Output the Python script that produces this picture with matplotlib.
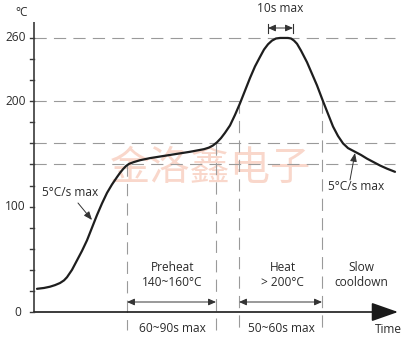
import matplotlib
matplotlib.use("Agg")
import matplotlib.pyplot as plt

plt.rcParams['font.family'] = ['Open Sans', 'DejaVu Sans']

# Reflow temperature profile (time in arbitrary units, temperature in °C)
profile_time = [3, 10, 16, 21, 26, 30, 33, 38, 43, 48, 53, 58, 63, 68, 73, 78,
                83, 86, 89, 92, 95, 99, 106, 116, 136, 156, 170, 175, 179, 183,
                187, 191, 196, 201, 206, 211, 216, 221, 226, 230, 234, 238, 242,
                246, 254, 257, 260, 263, 267, 273, 278, 283, 289, 294, 299, 304,
                309, 314, 321, 327, 333, 340, 346, 353, 361]
profile_temp = [22, 22.8, 24, 25.5, 27.5, 30, 33, 40, 49, 58, 68, 80, 92, 103,
                113, 121, 128, 132, 135.5, 138.5, 140.5, 142, 144, 146, 149, 152,
                154.5, 156, 158, 161, 165, 170, 177, 187, 198, 210, 222, 233, 242,
                249, 254, 257.5, 259.5, 260, 260, 259.5, 257.5, 254.5, 248, 237,
                226, 215, 200, 188, 176, 167, 160, 155.5, 152, 149, 145.5, 142,
                139, 136, 133]

# Reference temperature levels (dashed guides)
guide_levels = [140, 160, 200, 260]
major_ticks = [0, 100, 200, 260]
minor_ticks = [20, 40, 60, 80, 120, 140, 160, 180, 220, 240]

# Phase boundaries on the time axis and the temperature where each guide starts
preheat_start, preheat_end = 93, 182
heat_start, heat_end = 205, 288
boundary_times = [preheat_start, preheat_end, heat_start, heat_end]
boundary_tops = [140, 160, 200, 200]
peak_window = (234, 259)

fig = plt.figure(figsize=(4.09, 3.40), dpi=100)
ax = fig.add_axes([0, 0, 1, 1])
ax.set_xlim(-34, 375)
ax.set_ylim(-28 / 1.054, 312 / 1.054)
ax.axis('off')

axis_col = '#3a3a3a'
guide_col = '#9a9a9a'
text_col = '#2b2b2b'
fs = 8.6

# dashed guides
for lvl in guide_levels:
    ax.plot([0, 361], [lvl, lvl], color=guide_col, lw=0.8,
            linestyle=(0, (11, 6.5)), zorder=1)
for t, top in zip(boundary_times, boundary_tops):
    ax.plot([t, t], [top, -17], color=guide_col, lw=0.8,
            linestyle=(0, (11, 6.5)), zorder=1)

# axes
ax.plot([0, 0], [0, 275], color=axis_col, lw=1.2, solid_capstyle='butt', zorder=3)
ax.annotate('', xy=(364, 0), xytext=(0, 0),
            arrowprops=dict(arrowstyle='-|>,head_length=1.65,head_width=0.58',
                            color='#1a1a1a', lw=1.2, shrinkA=0, shrinkB=0),
            zorder=3)
for v in major_ticks + minor_ticks:
    ax.plot([-4, 0], [v, v], color=axis_col, lw=1.0, zorder=3)

for v in [100, 200, 260]:
    ax.text(-8, v, str(v), ha='right', va='center', fontsize=fs, color=text_col)
ax.text(-13, 0, '0', ha='right', va='center', fontsize=fs, color=text_col)
ax.text(-12, (312 - 12) / 1.054, '°C', ha='center', va='center', fontsize=fs,
        color=text_col)
ax.text(354, -17, 'Time', ha='center', va='center', fontsize=fs, color=text_col)

# watermark
ax.text(176, (312 - 168) / 1.054, '金洛鑫电子', ha='center', va='center',
        fontsize=29, color='#f2a88c', alpha=0.45,
        family=['Noto Sans CJK SC'], fontweight='light', zorder=0)

# temperature profile
ax.plot(profile_time, profile_temp, color='#1e1e1e', lw=1.6,
        solid_joinstyle='round', solid_capstyle='round', zorder=4)

# duration arrows
arrow_y = (312 - 302) / 1.054
dbl = dict(arrowstyle='<|-|>,head_length=0.45,head_width=0.2', color='#333333',
           lw=0.7, shrinkA=0, shrinkB=0)
ax.annotate('', xy=(preheat_start, arrow_y), xytext=(preheat_end, arrow_y),
            arrowprops=dbl)
ax.annotate('', xy=(heat_start, arrow_y), xytext=(heat_end, arrow_y),
            arrowprops=dbl)

# peak time window
py_mid = (312 - 28) / 1.054
for t in peak_window:
    ax.plot([t, t], [(312 - 24) / 1.054, (312 - 33) / 1.054], color='#333333', lw=0.8)
ax.annotate('', xy=(peak_window[0], py_mid), xytext=(peak_window[1], py_mid),
            arrowprops=dbl)
ax.text(sum(peak_window) / 2, (312 - 8) / 1.054, '10s max', ha='center',
        va='center', fontsize=fs, color=text_col)

# phase labels
lab_y = (312 - 275) / 1.054
ax.text((preheat_start + preheat_end) / 2 + 1, lab_y, 'Preheat\n140~160°C',
        ha='center', va='center', fontsize=fs, color=text_col, linespacing=1.25)
ax.text((heat_start + heat_end) / 2 + 2, lab_y, 'Heat\n> 200°C',
        ha='center', va='center', fontsize=fs, color=text_col, linespacing=1.25)
ax.text(327, lab_y, 'Slow\ncooldown', ha='center', va='center', fontsize=fs,
        color=text_col, linespacing=1.25)

dur_y = (312 - 329) / 1.054
ax.text((preheat_start + preheat_end) / 2 + 0.5, dur_y, '60~90s max', ha='center',
        va='center', fontsize=fs, color=text_col)
ax.text((heat_start + heat_end) / 2 + 0.5, dur_y, '50~60s max', ha='center',
        va='center', fontsize=fs, color=text_col)

# ramp-rate callouts
thin = dict(arrowstyle='-|>,head_length=0.5,head_width=0.2', color='#333333',
            lw=0.7, shrinkA=0, shrinkB=0)
ax.text(36, (312 - 192) / 1.054, '5°C/s max', ha='center', va='center',
        fontsize=fs, color=text_col)
ax.annotate('', xy=(58, (312 - 220) / 1.054), xytext=(44, (312 - 203) / 1.054),
            arrowprops=thin)
ax.text(322, (312 - 186) / 1.054, '5°C/s max', ha='center', va='center',
        fontsize=fs, color=text_col)
ax.annotate('', xy=(321, (312 - 153) / 1.054), xytext=(316, (312 - 180) / 1.054),
            arrowprops=thin)

fig.savefig('out.png', dpi=100)
